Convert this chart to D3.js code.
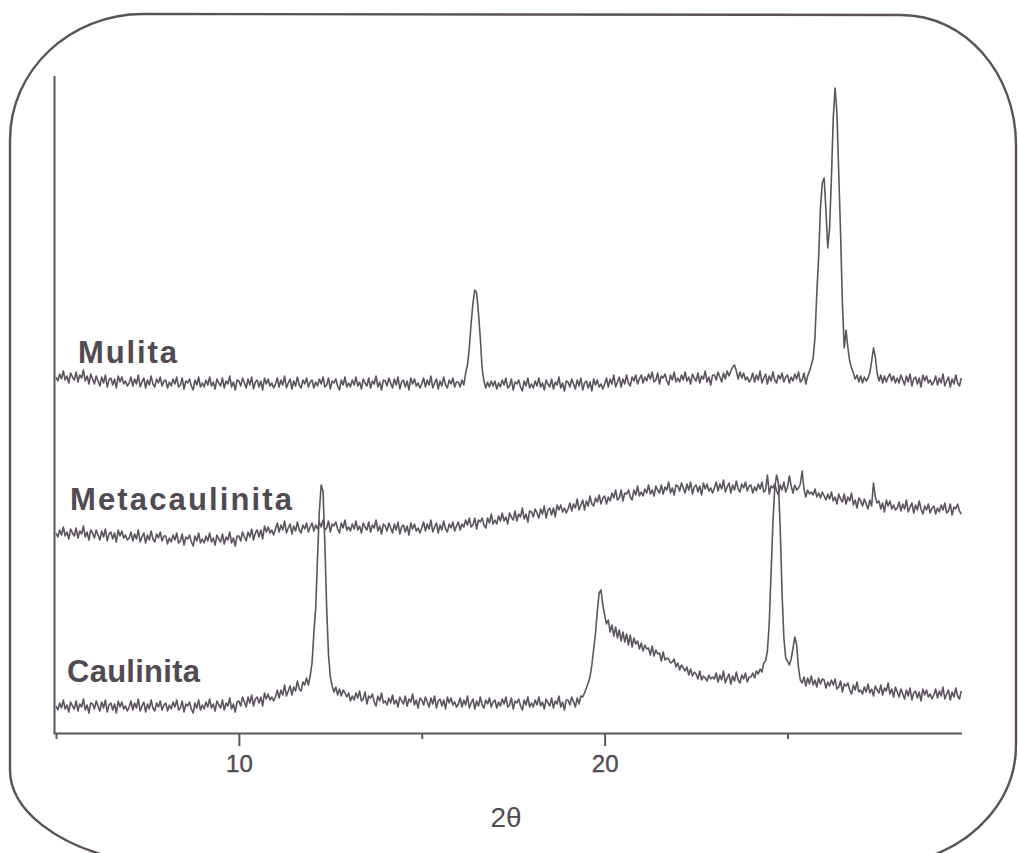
<!DOCTYPE html>
<html>
<head>
<meta charset="utf-8">
<script src="https://cdn.jsdelivr.net/npm/d3@7"></script>
<style>
  html, body { margin: 0; padding: 0; background: #ffffff; }
  svg { display: block; }
</style>
</head>
<body>
<svg id="chart" width="1018" height="853"></svg>
<script>
// ---------------- DATA ----------------
const categories = ["Caulinita", "Metacaulinita", "Mulita"];
const thetaStart = 5.0;      // first 2θ sample
const thetaStep = 0.05;      // 2θ sampling step
const xTickValues = [5, 10, 15, 20, 25];
const xTickLabels = ["", "10", "", "20", ""];
const xAxisTitle = "2θ";

// Intensities (arbitrary units, stacked as in the figure), one value per 0.05° from 5.00° to 29.75°
const caulinita = [
  27,23,30,25,33,24,28,21,31,27,24,32,22,29,26,34,23,28,20,30,
  29,24,32,27,22,31,25,33,21,28,30,23,29,20,32,26,31,24,27,22,
  26,32,23,30,25,34,22,27,31,21,29,24,33,25,22,30,26,32,23,28,
  30,22,28,24,31,26,33,23,25,32,21,29,27,31,24,20,30,25,33,23,
  28,24,31,26,34,25,29,22,32,28,25,33,23,30,27,35,24,29,21,31,
  32,27,36,31,26,36,30,38,27,34,36,30,36,27,40,34,39,33,36,32,
  36,43,35,43,38,48,37,42,47,38,46,42,52,44,42,51,48,55,48,57,
  70,100,125,175,222,248,242,190,125,78,56,47,41,46,38,44,37,43,40,36,
  40,32,37,33,40,35,42,32,34,41,29,37,35,39,31,27,37,32,40,30,
  32,28,35,30,38,29,33,26,36,32,29,37,27,34,31,39,28,33,25,35,
  33,28,36,31,26,35,29,37,25,32,34,27,33,24,36,30,35,28,31,26,
  29,35,26,33,28,37,25,30,34,24,32,27,36,28,25,33,29,35,26,31,
  33,25,31,27,34,29,36,26,28,35,24,32,30,34,27,23,33,28,36,26,
  30,26,33,28,36,27,31,24,34,30,27,35,25,32,29,37,26,31,23,33,
  33,28,36,31,26,35,29,37,36,40,45,50,56,68,84,100,122,140,143,128,
  118,109,113,101,108,97,106,95,103,92,101,91,99,88,98,86,95,89,92,84,
  90,82,88,84,85,78,87,77,83,79,80,72,81,73,75,74,70,71,74,66,
  70,63,68,65,62,66,58,64,57,61,59,54,62,53,57,55,52,58,54,56,
  54,60,51,58,53,62,50,55,59,49,57,52,61,53,50,58,54,60,51,56,
  56,60,55,62,59,64,61,70,72,82,110,160,210,245,258,250,205,140,95,75,
  72,68,74,85,96,88,65,53,50,56,47,55,49,57,48,53,46,55,49,54,
  53,45,51,47,53,48,54,44,46,52,41,49,47,50,43,39,48,43,51,41,
  43,39,46,41,49,40,44,37,47,43,40,48,38,45,42,50,39,44,36,46,
  41,36,44,39,34,43,37,45,33,40,42,35,41,32,44,38,43,36,39,34,
  38,44,35,42,37,46,34,39,43,33,41,36,45,37,34,42
];

const metacaulinita = [
  200,196,203,198,206,197,201,194,204,200,197,205,195,202,199,207,196,201,193,203,
  200,195,203,198,193,202,196,204,192,199,201,194,200,191,203,197,202,195,198,193,
  195,201,192,199,194,203,191,196,200,190,198,193,202,194,191,199,195,201,192,197,
  197,189,195,191,198,193,200,190,192,199,188,196,194,198,191,187,197,192,200,190,
  194,190,197,192,200,191,195,188,198,194,191,199,189,196,193,201,190,195,187,197,
  197,192,201,196,192,201,196,204,193,200,203,196,203,194,207,201,206,200,203,198,
  204,210,201,208,203,212,200,205,209,199,207,202,211,203,200,208,204,210,201,206,
  210,202,208,204,211,206,213,203,205,212,201,209,207,211,204,200,210,205,213,203,
  206,202,209,204,212,203,207,200,210,206,203,211,201,208,205,213,202,207,199,209,
  207,202,210,205,200,209,203,211,199,206,208,201,207,198,210,204,209,202,205,200,
  205,211,202,209,204,213,201,206,210,200,208,203,212,204,201,209,205,211,202,207,
  211,203,209,206,213,208,215,206,208,215,204,213,211,215,208,205,215,210,219,209,
  213,209,217,212,220,212,216,209,220,216,213,222,212,219,216,225,214,219,211,222,
  221,216,224,220,215,224,219,227,215,223,225,218,225,216,228,223,228,221,225,220,
  224,230,222,229,225,234,223,228,233,223,232,227,237,229,227,235,231,238,229,235,
  237,229,236,232,240,235,243,233,235,243,232,240,239,243,236,233,243,238,247,237,
  241,237,244,240,248,239,243,237,247,243,240,248,239,246,243,251,240,245,238,248,
  247,242,250,245,240,249,243,251,239,246,248,241,247,238,250,244,249,242,245,240,
  245,251,242,249,244,253,241,246,250,240,248,243,252,244,241,249,245,251,242,247,
  248,240,246,242,249,244,251,241,243,258,239,247,245,249,242,238,248,243,251,241,
  246,257,247,240,248,243,245,249,262,244,236,243,239,241,238,244,236,240,235,241,
  237,233,239,234,241,232,236,229,239,234,231,239,229,236,232,240,228,233,225,235,
  232,227,234,229,224,233,227,250,236,230,232,224,230,221,233,227,232,224,228,223,
  225,231,222,229,224,233,221,226,230,220,228,223,232,224,219,227,223,229,220,225,
  227,219,225,221,228,223,230,220,222,229,218,226,224,229,222,219
];

const mulita = [
  356,352,359,354,362,353,357,350,360,356,353,361,351,358,355,363,352,357,349,359,
  354,349,357,352,347,356,350,358,346,353,355,348,354,345,357,351,356,349,352,347,
  350,356,347,354,349,358,346,351,355,345,353,348,357,349,346,354,350,356,347,352,
  353,345,351,347,354,349,356,346,348,355,344,352,350,354,347,343,353,348,356,346,
  350,346,353,348,356,347,351,344,354,350,347,355,345,352,349,357,346,351,343,353,
  352,347,355,350,345,354,348,356,344,351,353,346,352,343,355,349,354,347,350,345,
  349,355,346,353,348,357,345,350,354,344,352,347,356,348,345,353,349,355,346,351,
  353,345,351,347,354,349,356,346,348,355,344,352,350,354,347,343,353,348,356,346,
  350,346,353,348,356,347,351,344,354,350,347,355,345,352,349,357,346,351,343,353,
  352,347,355,350,345,354,348,356,344,351,353,346,352,343,355,349,354,347,350,345,
  349,355,346,353,348,357,345,350,354,344,352,347,356,348,345,353,349,355,346,351,
  351,346,353,348,360,368,385,410,430,443,440,420,395,365,352,345,351,346,352,347,
  352,344,350,346,353,348,355,345,347,354,343,351,349,353,346,342,352,347,355,345,
  349,345,352,347,355,346,350,343,353,349,346,354,344,351,348,356,345,350,342,352,
  351,346,354,349,344,353,347,355,343,350,352,345,351,342,354,348,353,346,349,344,
  349,355,346,354,349,358,346,351,356,346,354,349,358,350,347,356,352,358,349,354,
  358,350,356,352,359,354,361,351,353,360,349,357,355,359,352,348,358,353,361,351,
  355,351,358,353,361,352,356,349,359,355,352,360,350,357,354,362,351,356,348,358,
  358,353,361,356,351,360,354,362,357,362,366,368,362,354,361,355,360,353,356,351,
  354,360,351,358,353,362,350,355,359,349,357,352,361,353,350,358,354,360,351,356,
  358,350,356,352,359,354,361,351,353,360,349,357,362,368,375,395,440,475,525,550,
  555,523,485,505,555,615,645,620,560,500,430,385,403,385,372,365,360,354,358,351,
  357,350,356,352,355,360,372,385,376,360,352,358,350,357,351,356,359,352,357,350,
  355,350,358,353,348,357,351,359,347,354,356,349,355,346,358,352,357,350,353,348,
  351,357,348,355,350,359,347,352,356,346,354,349,358,350,347,355
];

const seriesValues = [caulinita, metacaulinita, mulita];

// ---------------- LAYOUT / STYLE ----------------
const ink = "#5c545e";
const textInk = "#524a53";
const fontFamily = "'Liberation Sans', Arial, Helvetica, sans-serif";

const svg = d3.select("#chart");

// Rounded frame around the figure
svg.append("path")
  .attr("d", "M143,14 L901,15 C965,15 1016,73 1016,145 L1016,745 C1016,800 975,842 925,858 L115,858 C60,845 10,812 10,770 L10,140 C10,70 70,14 143,14 Z")
  .attr("fill", "none")
  .attr("stroke", "#5a5258")
  .attr("stroke-width", 2.4);

const x = d3.scaleLinear().domain([5, 29.77]).range([56, 962]);
const y = d3.scaleLinear().domain([0, 660]).range([733, 73]);

// Y axis: plain vertical line (no ticks)
svg.append("line")
  .attr("x1", x.range()[0] - 1.5).attr("x2", x.range()[0] - 1.5)
  .attr("y1", y(657)).attr("y2", y(0))
  .attr("stroke", ink).attr("stroke-width", 2);

// X axis
const xAxis = d3.axisBottom(x)
  .tickValues(xTickValues)
  .tickFormat((d, i) => xTickLabels[i])
  .tickSizeOuter(0)
  .tickSize(13)
  .tickPadding(6);

const gx = svg.append("g")
  .attr("transform", `translate(0,${y(0)})`)
  .call(xAxis);

gx.select(".domain")
  .attr("d", `M${x.range()[0] - 2.5},0.5H${x.range()[1]}`)
  .attr("stroke", ink).attr("stroke-width", 2);
gx.selectAll(".tick line")
  .attr("stroke", ink).attr("stroke-width", 2)
  .attr("y2", (d, i) => xTickLabels[i] ? 13 : 6);
gx.selectAll(".tick text")
  .attr("fill", textInk)
  .attr("font-family", fontFamily)
  .attr("font-size", 24)
  .attr("stroke", textInk)
  .attr("stroke-width", 0.4)
  .attr("dy", "0.71em")
  .attr("y", 22);

// Axis title
svg.append("text")
  .attr("x", 506).attr("y", 827)
  .attr("text-anchor", "middle")
  .attr("font-family", fontFamily)
  .attr("font-size", 28)
  .attr("fill", textInk)
  .text(xAxisTitle);

// Diffractogram traces
const line = d3.line()
  .x((d, i) => x(thetaStart + i * thetaStep))
  .y(d => y(d))
  .curve(d3.curveLinear);

svg.append("g")
  .selectAll("path")
  .data(seriesValues)
  .join("path")
  .attr("d", d => line(d))
  .attr("fill", "none")
  .attr("stroke", ink)
  .attr("stroke-width", 1.6)
  .attr("stroke-linejoin", "round");

// Series labels
const labelPos = [
  { x: 67, y: 682, w: 133 },
  { x: 70, y: 510, w: 222 },
  { x: 78, y: 363, w: 99 }
];
svg.append("g")
  .selectAll("text")
  .data(categories)
  .join("text")
  .attr("x", (d, i) => labelPos[i].x)
  .attr("y", (d, i) => labelPos[i].y)
  .attr("textLength", (d, i) => labelPos[i].w)
  .attr("lengthAdjust", "spacing")
  .attr("font-family", fontFamily)
  .attr("font-weight", "bold")
  .attr("font-size", 31)
  .attr("fill", textInk)
  .text(d => d);
</script>
</body>
</html>
